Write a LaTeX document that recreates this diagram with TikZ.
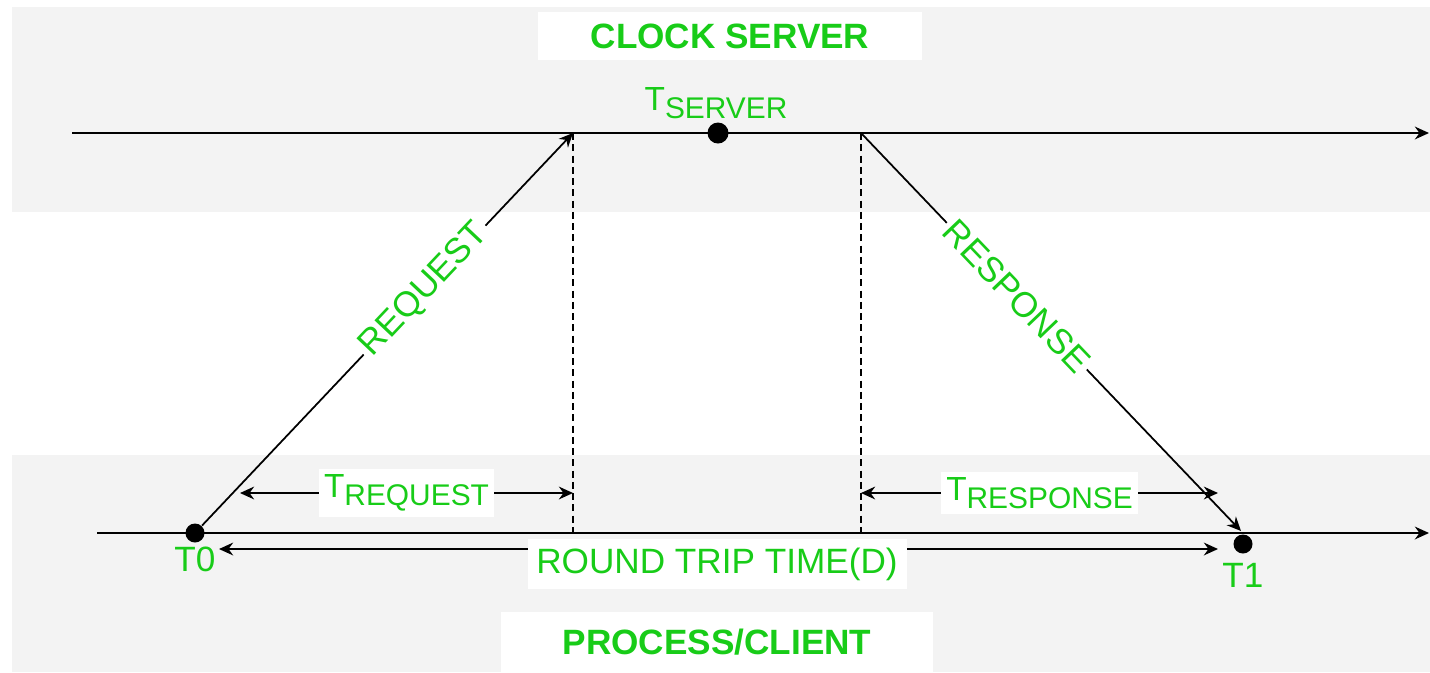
\documentclass[tikz,border=0pt]{standalone}
\usepackage{fontspec}
\setmainfont{Liberation Sans}
\usepackage{tikz}
\usetikzlibrary{positioning,arrows.meta}

\definecolor{labelgreen}{RGB}{24,204,24}
\definecolor{bandgray}{RGB}{243,243,243}

% T with a lowered name, as in T_SERVER
\newcommand{\tsub}[1]{{\fontsize{9.5}{11}\selectfont T}\raisebox{-2.4pt}{\fontsize{8.5}{10}\selectfont #1}}

\begin{document}
\begin{tikzpicture}[x=0.01cm, y=-0.01cm,
    >={Stealth[length=4pt, width=3.6pt]},
    greentext/.style={text=labelgreen, font=\fontsize{10}{12}\selectfont},
    titlebox/.style={fill=white, text=labelgreen, font=\bfseries\fontsize{10}{12}\selectfont, minimum width=3.84cm, minimum height=0.48cm},
    eventdot/.style={circle, fill=black, inner sep=0pt, minimum size=0.19cm},
    timeline/.style={->, draw=black, line width=0.7pt},
    msgline/.style={->, draw=black, line width=0.5pt},
    dimline/.style={<->, draw=black, line width=0.65pt},
    guide/.style={draw=black, line width=0.45pt, dash pattern=on 2pt off 1.2pt},
    whitelabel/.style={greentext, fill=white, inner sep=1.5pt}
    ]
        %Bands
        \fill[white] (0,0) rectangle (1430,672);
        \fill[bandgray] (12,7) rectangle (1430,212);
        \fill[bandgray] (12,455) rectangle (1430,672);
        \useasboundingbox (0,0) rectangle (1430,672);

        %Titles
        \node[titlebox] (server) at (730,36) {CLOCK SERVER};
        \node[titlebox, minimum width=4.31cm, minimum height=0.59cm]
            (client) at (717,642) {PROCESS/CLIENT};

        %Points on the time lines
        \coordinate (srvL) at (72,133);
        \coordinate (srvR) at (1429,133);
        \coordinate (cliL) at (97,533);
        \coordinate (cliR) at (1429,533);
        \coordinate (reqE) at (573,133);
        \coordinate (reqF) at (573,533);
        \coordinate (resS) at (861,133);
        \coordinate (resF) at (861,533);
        \coordinate (resE) at (1241,531);

        %Time lines
        \draw[timeline] (srvL) -- (srvR);
        \draw[timeline] (cliL) -- (cliR);

        %Events
        \node[eventdot] (t0) at (195,533) {};
        \node[eventdot] (t1) at (1243,544) {};
        \node[eventdot, minimum width=0.19cm, minimum height=0.21cm] (tsrv) at (718,133) {};
        \node[greentext] (t0lbl) [below=-0.09cm of t0] {T0};
        \node[greentext] (t1lbl) [below=-0.03cm of t1] {T1};
        \node[text=labelgreen] (tsrvlbl) at (716,103) {\tsub{SERVER}};

        %Messages
        \draw[guide] (reqE) -- (reqF);
        \draw[guide] (resS) -- (resF);
        \draw[msgline] (t0) -- node[whitelabel, sloped, pos=0.6, inner sep=1pt] {REQUEST} (reqE);
        \draw[msgline] (resS) -- node[whitelabel, sloped, pos=0.41, inner sep=1pt] {RESPONSE} (resE);

        %Intervals
        \coordinate (rqA) at (240,493);
        \coordinate (rqB) at (573,493);
        \coordinate (rsA) at (861,493);
        \coordinate (rsB) at (1218,493);
        \coordinate (rtA) at (219,549);
        \coordinate (rtB) at (1218,549);
        \draw[dimline] (rqA) -- node[whitelabel] (treq) {\tsub{REQUEST}} (rqB);
        \draw[dimline] (rsA) -- node[whitelabel] (tres) {\tsub{RESPONSE}} (rsB);
        \draw[dimline] (rtA) -- (rtB);
        \node[whitelabel, inner sep=2.5pt] (rtt) at (717,564) {ROUND TRIP TIME(D)};
\end{tikzpicture}
\end{document}
